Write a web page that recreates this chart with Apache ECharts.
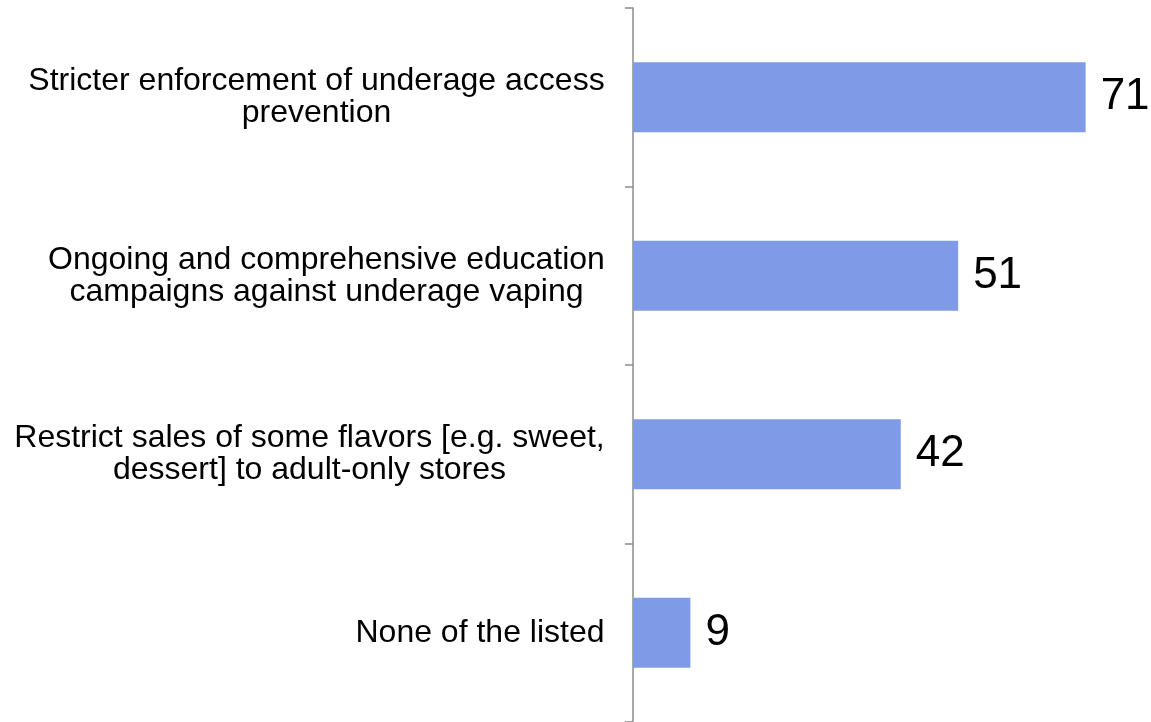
<!DOCTYPE html>
<html>
<head>
<meta charset="utf-8">
<script src="https://cdn.jsdelivr.net/npm/echarts@6/dist/echarts.min.js"></script>
<style>
  html, body { margin: 0; padding: 0; background: #fff; }
  #main { width: 1151px; height: 722px; }
</style>
</head>
<body>
<div id="main"></div>
<script>
var categories = [
  'Stricter enforcement of underage access\nprevention',
  'Ongoing and comprehensive education\ncampaigns against underage vaping',
  'Restrict sales of some flavors [e.g. sweet,\ndessert] to adult-only stores',
  'None of the listed'
];
var values = [71, 51, 42, 9];

var labelFont = '32px Arial';
var ctx = document.createElement('canvas').getContext('2d');
ctx.font = labelFont;

// 每个标签按最长一行的宽度居中
var rich = {};
categories.forEach(function (c, i) {
  var w = 0;
  c.split('\n').forEach(function (line) {
    w = Math.max(w, ctx.measureText(line).width);
  });
  rich['c' + i] = {
    width: Math.ceil(w),
    align: 'center',
    fontSize: 32,
    fontFamily: 'Arial',
    color: '#000',
    lineHeight: 32
  };
});

var chart = echarts.init(document.getElementById('main'));
chart.setOption({
  animation: false,
  grid: { left: 633, right: 8, top: 8, bottom: 0, containLabel: false },
  xAxis: {
    type: 'value',
    min: 0,
    max: 80,
    show: false
  },
  yAxis: {
    type: 'category',
    inverse: true,
    data: categories,
    axisLine: { show: true, lineStyle: { color: '#8c8c8c', width: 1.5 } },
    axisTick: { show: true, alignWithLabel: false, length: 8, lineStyle: { color: '#8c8c8c', width: 1.5 } },
    axisLabel: {
      margin: 28,
      align: 'right',
      formatter: function (value, idx) {
        return value.split('\n').map(function (l) {
          return '{c' + idx + '|' + l + '}';
        }).join('\n');
      },
      rich: rich
    }
  },
  series: [{
    type: 'bar',
    data: values,
    barWidth: 70,
    itemStyle: { color: '#7f9be7' },
    label: {
      show: true,
      position: 'right',
      distance: 15,
      fontSize: 44,
      fontFamily: 'Arial',
      color: '#000'
    }
  }]
});
</script>
</body>
</html>
